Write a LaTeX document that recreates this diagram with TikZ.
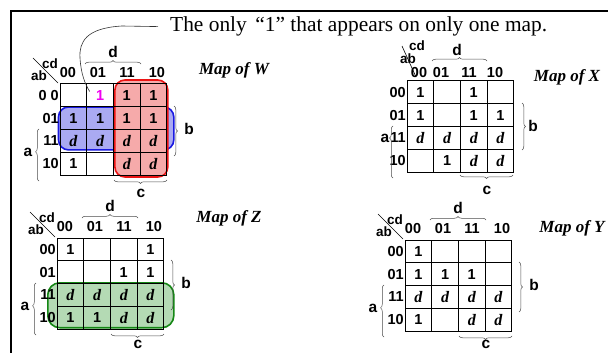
\documentclass[tikz,border=0pt]{standalone}
\usepackage{fontspec}
\setmainfont{Liberation Serif}
\setsansfont{Liberation Sans}
\usetikzlibrary{decorations.pathreplacing,calc}
\pgfdeclarelayer{bg}
\pgfsetlayers{bg,main}
\definecolor{bluefill}{RGB}{170,170,242}
\definecolor{blueline}{RGB}{25,25,225}
\definecolor{redfill}{RGB}{246,170,170}
\definecolor{redline}{RGB}{235,20,20}
\definecolor{greenfill}{RGB}{180,218,180}
\definecolor{greenline}{RGB}{20,135,20}
\definecolor{mag}{RGB}{240,0,240}
\newcommand\kO{1}
\newcommand\kN{}
\newcommand\kD{{\fontsize{16}{16}\selectfont\rmfamily\bfseries\itshape d}}
\newcommand\kM{\textcolor{mag}{1}}
\tikzset{
  cell/.style={draw=black, line width=1pt, minimum width=26.7pt, minimum height=22.8pt, inner sep=0pt,
    font=\fontsize{14.5}{15}\selectfont\sffamily\bfseries},
  lab/.style={inner sep=0pt, font=\fontsize{14.5}{15}\selectfont\sffamily\bfseries},
  small/.style={inner sep=0pt, font=\fontsize{13.5}{14}\selectfont\sffamily\bfseries},
  var/.style={inner sep=0pt, font=\fontsize{15.5}{16}\selectfont\sffamily\bfseries},
  brc/.style={decorate, decoration={brace, amplitude=3.5pt}, line width=0.5pt, gray!60!black},
  maptitle/.style={inner sep=0pt, font=\fontsize{17}{18}\selectfont\rmfamily\bfseries\itshape},
  diag/.style={line width=0.6pt, black},
  kloop/.style={line width=1.6pt, rounded corners=10pt}
}
% cells of a map: name, x0, y0, list of 16 entries
\newcommand\kcells[4]{%
  \foreach \v [count=\i from 0] in {#4} {
    \pgfmathtruncatemacro\kr{\i/4}
    \pgfmathtruncatemacro\kc{mod(\i,4)}
    \node[cell] (#1-\kr-\kc) at ({#2+(\kc+0.5)*26.7},{#3+(\kr+0.5)*22.8}) {\v};
  }}
% row labels: name, x0, y0, row 00 label
\newcommand\krows[4]{%
  \begin{scope}[shift={(#2,#3)}]
    \node[lab, anchor=east] (#1-r0) at (-1,11.4) {#4};
    \node[lab, anchor=east] (#1-r1) at (-1,34.2) {01};
    \node[lab, anchor=east] (#1-r2) at (-1,57) {11};
    \node[lab, anchor=east] (#1-r3) at (-1,79.8) {10};
  \end{scope}}
% common labels (cd/ab, headers, braces)
\newcommand\klabs[4]{%
  \begin{scope}[shift={(#2,#3)}]
    \node[small] (#1-cd) at (-10,-20) {cd};
    \node[small] (#1-ab) at (-21,-8) {ab};
    \draw[diag] (-27,-26) -- (-2,-1);
    \node[lab] (#1-h0) at (8,-11) {00};
    \node[lab] (#1-h1) at (38,-11) {01};
    \node[lab] (#1-h2) at (67,-11) {11};
    \node[lab] (#1-h3) at (97,-11) {10};
    \draw[brc] (25,-20) -- (81,-20);
    \node[var] (#1-d) at (53,-32) {d};
    \draw[brc, decoration={aspect=0.56}] (-21,97) -- (-21,45);
    \node[var] (#1-a) at (-32,68) {a};
    \draw[brc] (114,22) -- (114,72);
    \node[var] (#1-b) at (129,45) {b};
    \draw[brc] (107,96) -- (54,96);
    \node[var] (#1-c) at (81,#4) {c};
  \end{scope}}
\begin{document}
\begin{tikzpicture}[x=1pt, y=-1pt]
\useasboundingbox (0,0) rectangle (608,353);
% frame
\draw[line width=2.2pt] (10.8,353) -- (10.8,11.2) -- (608,11.2);

% ---------- Map of W ----------
\kcells{W}{60}{84}{\kN,\kM,\kO,\kO, \kO,\kO,\kO,\kO, \kD,\kD,\kD,\kD, \kO,\kN,\kD,\kD}
\krows{W}{60}{84}{0 0}
\klabs{W}{60}{84}{109}
\node[maptitle] (mW) at (234,70) {Map of W};

% ---------- Map of X ----------
\kcells{X}{407}{81}{\kO,\kN,\kO,\kN, \kO,\kN,\kO,\kO, \kD,\kD,\kD,\kD, \kN,\kO,\kD,\kD}
\krows{X}{407}{81}{00}
\begin{scope}[shift={(407,81)}]
  \node[small] (X-cd) at (10,-35.5) {cd};
  \node[small] (X-ab) at (1,-22) {ab};
  \draw[diag] (-5,-35) -- (9,-4);
  \node[lab] (X-h0) at (12,-8.5) {00};
  \node[lab] (X-h1) at (34,-8.5) {01};
  \node[lab] (X-h2) at (62,-8.5) {11};
  \node[lab] (X-h3) at (88,-8.5) {10};
  \draw[brc] (25,-20) -- (80,-20);
  \node[var] (X-d) at (50,-31) {d};
  \draw[brc, decoration={aspect=0.77}] (-14,97) -- (-14,45);
  \node[var] (X-a) at (-22,57) {a};
  \draw[brc] (115,22) -- (115,69);
  \node[var] (X-b) at (126,45) {b};
  \draw[brc] (106,94) -- (53,94);
  \node[var] (X-c) at (80,109) {c};
\end{scope}
\node[maptitle] (mX) at (567,77) {Map of X};

% ---------- Map of Z ----------
\kcells{Z}{57}{238}{\kO,\kN,\kN,\kO, \kN,\kN,\kO,\kO, \kD,\kD,\kD,\kD, \kO,\kO,\kD,\kD}
\krows{Z}{57}{238}{00}
\klabs{Z}{57}{238}{106}
\node[maptitle] (mZ) at (229,218) {Map of Z};

% ---------- Map of Y ----------
\kcells{Y}{405}{240}{\kO,\kN,\kN,\kN, \kO,\kO,\kO,\kN, \kD,\kD,\kD,\kD, \kO,\kN,\kD,\kD}
\krows{Y}{405}{240}{00}
\klabs{Y}{405}{240}{104}
\node[maptitle] (mY) at (572,228) {Map of Y};

% ---------- loops ----------
\begin{pgfonlayer}{bg}
  \draw[kloop, fill=bluefill, draw=blueline] ($(W-1-0.north west)+(-1,0.7)$) rectangle ($(W-2-3.south east)+(6.5,-3)$);
  \draw[kloop, fill=redfill, draw=redline] ($(W-0-2.north west)+(2,-3.5)$) rectangle ($(W-3-3.south east)+(0.5,1.3)$);
  \draw[kloop, fill=greenfill, draw=greenline, rounded corners=12pt] ($(Z-2-0.north west)+(-8.7,-0.3)$) rectangle ($(Z-3-3.south east)+(9.5,-2)$);
\end{pgfonlayer}

% ---------- note ----------
\node[anchor=base west, inner xsep=12pt, inner ysep=0pt, font=\fontsize{21.4}{24}\selectfont] (title) at (158,31.7)
  {The only\hspace{0.4em}“1” that appears on only one map.};
\draw[line width=0.6pt, gray!40!black] (title.west) -- (122,26) .. controls (86,28) and (79,42) .. (80,58)
  .. controls (81,74) and (85,84) .. ($(W-0-1.north west)+(3.5,8)$);
\end{tikzpicture}
\end{document}
